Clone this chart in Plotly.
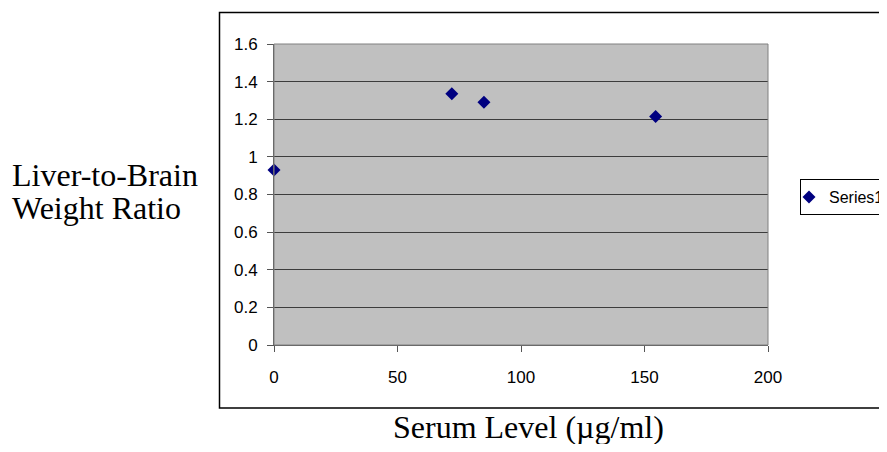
import plotly.graph_objects as go

# Data
serum_level = [0, 72, 85, 154.5]
liver_brain_ratio = [0.93, 1.335, 1.29, 1.215]
series_name = "Series1"
x_ticks = [0, 50, 100, 150, 200]
y_ticks = [0, 0.2, 0.4, 0.6, 0.8, 1, 1.2, 1.4, 1.6]
y_tick_text = ["0", "0.2", "0.4", "0.6", "0.8", "1", "1.2", "1.4", "1.6"]
y_title_lines = ["Liver-to-Brain", "Weight Ratio"]
x_title = "Serum Level (µg/ml)"

# The page body has an 8px margin, so the figure is laid out in page
# coordinates shifted by 8px.
OFF = 8
W, H = 887 - OFF, 452 - 2 * OFF
L, R, T, B = 274 - OFF, 768 - OFF, 44 - OFF, 345 - OFF
pw, ph = R - L, B - T


def px_x(p):
    return (p - OFF - L) / pw


def px_y(p):
    return (B - (p - OFF)) / ph


fig = go.Figure()
fig.add_trace(go.Scatter(
    x=serum_level, y=liver_brain_ratio, mode="markers", name=series_name,
    marker=dict(symbol="diamond", size=10, color="#000080",
                line=dict(width=0)),
    cliponaxis=False,
))

sans = "Arial, Liberation Sans, sans-serif"
serif = "Times New Roman, Liberation Serif, serif"
title_size = 32

fig.update_layout(
    width=W, height=H,
    margin=dict(l=L, r=W - R, t=T, b=H - B, pad=0, autoexpand=False),
    paper_bgcolor="white",
    plot_bgcolor="#C0C0C0",
    font=dict(family=sans, size=17, color="black"),
    showlegend=True,
    legend=dict(
        x=px_x(800), y=px_y(179), xanchor="left", yanchor="top",
        bgcolor="white", bordercolor="black", borderwidth=1,
        font=dict(family=sans, size=16, color="black"),
        itemwidth=30, indentation=-12,
    ),
    xaxis=dict(
        range=[0, 200], tickvals=x_ticks, showgrid=False, zeroline=False,
        showline=True, linecolor="#555", linewidth=1,
        ticks="outside", ticklen=6, tickcolor="#555",
        ticklabelstandoff=11, tickfont=dict(family=sans, size=17),
        fixedrange=True,
    ),
    yaxis=dict(
        range=[0, 1.6], tickvals=y_ticks, ticktext=y_tick_text,
        showgrid=True, gridcolor="#3c3c3c", gridwidth=1, zeroline=False,
        showline=True, linecolor="#555", linewidth=1,
        ticks="outside", ticklen=6, tickcolor="#555",
        ticklabelstandoff=6, tickfont=dict(family=sans, size=17),
        fixedrange=True,
    ),
    shapes=[
        # outer chart border
        dict(type="rect", xref="paper", yref="paper",
             x0=px_x(219.5), x1=px_x(900), y0=px_y(12.5), y1=px_y(408),
             line=dict(color="black", width=1.5), fillcolor="rgba(0,0,0,0)",
             layer="below"),
        # plot area border
        dict(type="rect", xref="paper", yref="paper",
             x0=0, x1=1, y0=0, y1=1,
             line=dict(color="#808080", width=1), fillcolor="rgba(0,0,0,0)",
             layer="above"),
    ],
    annotations=[
        dict(text=y_title_lines[0], xref="paper", yref="paper",
             x=px_x(10), y=px_y(175), xanchor="left", yanchor="middle",
             align="left", showarrow=False,
             font=dict(family=serif, size=title_size, color="black")),
        dict(text=y_title_lines[1], xref="paper", yref="paper",
             x=px_x(10), y=px_y(208), xanchor="left", yanchor="middle",
             align="left", showarrow=False,
             font=dict(family=serif, size=title_size, color="black")),
        dict(text=x_title, xref="paper", yref="paper",
             x=px_x(528), y=px_y(427), xanchor="center", yanchor="middle",
             showarrow=False,
             font=dict(family=serif, size=title_size, color="black")),
    ],
)

fig.write_html("out.html")
